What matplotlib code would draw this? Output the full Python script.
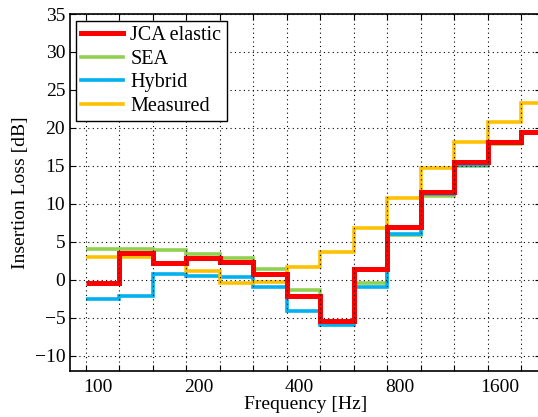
"""
Insertion loss per third-octave band: JCA elastic model vs SEA, hybrid and measurement.
"""

import numpy as np
import matplotlib
matplotlib.use("Agg")
import matplotlib.pyplot as plt

# third-octave band centres [Hz]
bands = [100, 125, 160, 200, 250, 315, 400, 500, 630, 800, 1000, 1250, 1600, 2000]

jca_elastic = [-0.4, 3.5, 2.2, 2.9, 2.3, 0.7, -2.1, -5.4, 1.4, 6.9, 11.6, 15.5, 18.2, 19.5]
sea = [4.0, 4.0, 3.9, 3.4, 2.8, 1.4, -1.4, -5.6, -0.4, 5.9, 11.0, 15.0, 17.9, 19.3]
hybrid = [-2.6, -2.2, 0.7, 0.5, 0.4, -1.0, -4.1, -6.0, -1.0, 6.0, 11.3, 15.1, 18.0, 19.3]
measured = [3.0, 3.0, 2.0, 1.1, -0.4, -0.3, 1.6, 3.6, 6.8, 10.8, 14.7, 18.1, 20.8, 23.3]

xtick_labels = ["100", "200", "400", "800", "1600"]
yticks = np.arange(-10, 36, 5)

plt.rcParams["font.family"] = ["Liberation Serif", "DejaVu Serif"]
plt.rcParams["font.size"] = 14

fig = plt.figure(figsize=(5.38, 4.17), dpi=100)
ax = fig.add_axes([0.1301, 0.111, 0.8755, 0.8554])

# each band drawn as one step, bands evenly spaced by index
edges = np.arange(len(bands) + 1)
ax.stairs(sea, edges, color="#92d050", lw=2.6, baseline=None, label="SEA")
ax.stairs(hybrid, edges, color="#00b0f0", lw=2.6, baseline=None, label="Hybrid")
ax.stairs(measured, edges, color="#ffc000", lw=2.6, baseline=None, label="Measured")
ax.stairs(jca_elastic, edges, color="#ff0000", lw=3.6, baseline=None, label="JCA elastic")

ax.set_xlim(-0.47, 13.59)
ax.set_ylim(-12, 35)

# grid on band edges, labels placed inside every third band
ax.set_xticks(edges[:-1])
ax.set_xticklabels([])
label_pos = [bands.index(int(t)) + 0.37 for t in xtick_labels]
ax.set_xticks(label_pos, minor=True)
ax.set_xticklabels(xtick_labels, minor=True)
ax.tick_params(axis="x", which="minor", length=0, pad=6)
ax.set_yticks(yticks)

ax.tick_params(which="major", direction="in", length=4, width=0.8,
               top=True, right=True)
ax.grid(True, which="major", color="black", linestyle=(0, (1, 3)), lw=0.8)
for s in ax.spines.values():
    s.set_linewidth(1.2)

ax.set_xlabel("Frequency [Hz]", labelpad=0)
ax.set_ylabel("Insertion Loss [dB]", labelpad=4)

handles, labels = ax.get_legend_handles_labels()
order = [3, 0, 1, 2]
leg = ax.legend([handles[i] for i in order], [labels[i] for i in order],
                loc="upper left", bbox_to_anchor=(0.013, 0.98),
                fontsize=14.5, fancybox=False, framealpha=1, edgecolor="black",
                handlelength=2.1, handletextpad=0.35, labelspacing=0.22,
                borderpad=0.25, borderaxespad=0)
leg.get_frame().set_linewidth(1.0)

fig.savefig("out.png", dpi=100)
